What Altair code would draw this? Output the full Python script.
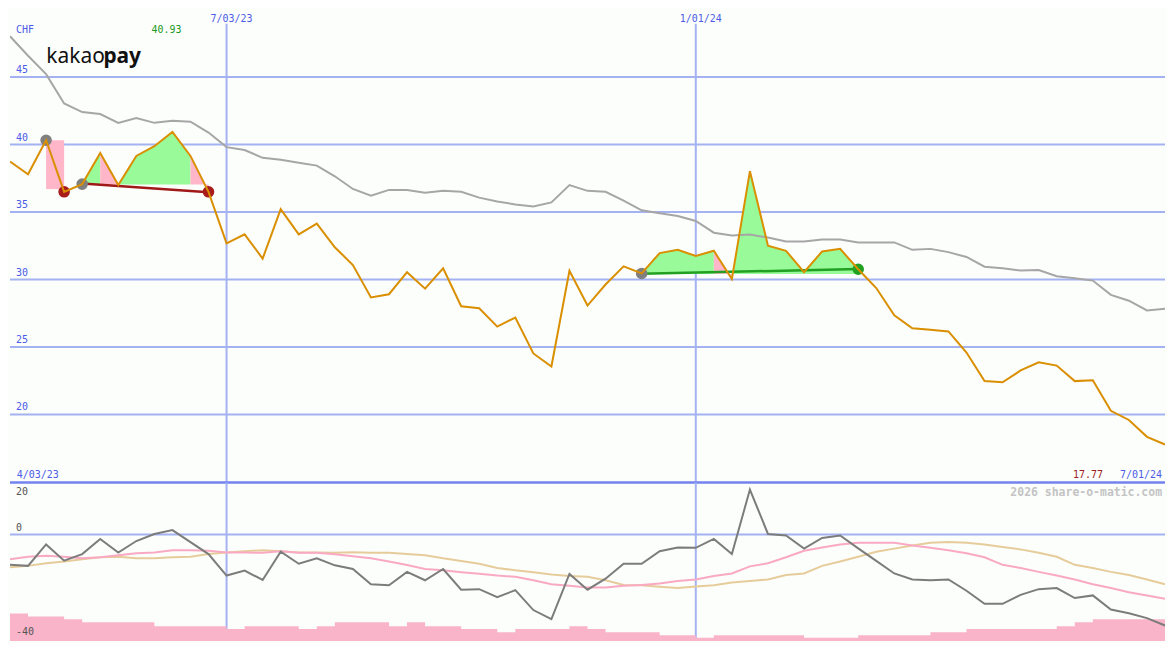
import altair as alt
import pandas as pd

# ---------------- data ----------------
start_date = "2023-04-10"
n_weeks = 65

price = [38.75, 37.80, 40.32, 36.50, 37.07, 39.38, 37.00, 39.16, 39.88, 40.93,
         39.16, 36.50, 32.68, 33.35, 31.55, 35.22, 33.35, 34.14, 32.39, 31.07,
         28.67, 28.91, 30.54, 29.32, 30.83, 28.02, 27.87, 26.51, 27.18, 24.52,
         23.55, 30.64, 28.07, 29.63, 30.97, 30.45, 31.96, 32.20, 31.74, 32.13,
         30.04, 38.03, 32.51, 32.13, 30.54, 32.08, 32.27, 30.76, 29.37, 27.35,
         26.39, 26.27, 26.15, 24.59, 22.47, 22.38, 23.26, 23.87, 23.62, 22.47,
         22.54, 20.27, 19.59, 18.34, 17.77]

moving_avg = [48.03, 46.58, 45.22, 43.05, 42.41, 42.26, 41.61, 41.97, 41.61, 41.76,
              41.69, 40.89, 39.81, 39.60, 39.02, 38.88, 38.66, 38.44, 37.65, 36.71,
              36.21, 36.64, 36.64, 36.43, 36.57, 36.50, 36.07, 35.78, 35.56, 35.41,
              35.71, 37.00, 36.57, 36.50, 35.85, 35.13, 34.91, 34.70, 34.34, 33.47,
              33.26, 33.33, 33.11, 32.82, 32.82, 32.96, 32.96, 32.75, 32.75, 32.75,
              32.20, 32.27, 32.03, 31.67, 30.95, 30.83, 30.66, 30.70, 30.24, 30.09,
              29.92, 28.86, 28.43, 27.71, 27.84]

osc_main = [-11.6, -12.0, -3.8, -10.0, -7.5, -1.7, -6.9, -2.5, 0.2, 1.7,
            -2.9, -7.5, -15.7, -13.8, -17.4, -6.6, -11.2, -9.1, -11.8, -13.2,
            -19.0, -19.4, -14.3, -17.5, -13.2, -21.1, -20.9, -24.0, -21.3, -28.9,
            -32.4, -15.1, -21.1, -16.9, -11.2, -11.2, -6.4, -5.0, -5.1, -1.7,
            -7.5, 17.2, 0.2, -0.4, -5.4, -1.3, -0.4, -5.3, -10.1, -14.9,
            -17.2, -17.5, -17.2, -21.5, -26.5, -26.5, -23.1, -20.9, -20.5, -24.3,
            -23.3, -28.7, -30.1, -32.0, -34.8]

osc_pink = [-9.5, -8.5, -8.1, -8.5, -9.1, -8.7, -7.9, -7.2, -6.9, -6.0,
            -6.0, -6.2, -6.9, -6.9, -7.0, -6.4, -7.0, -7.0, -7.6, -8.3,
            -9.1, -10.3, -11.7, -13.2, -13.7, -14.4, -15.0, -15.7, -16.2, -17.5,
            -19.0, -19.6, -20.3, -20.3, -19.6, -19.3, -18.7, -17.8, -17.2, -15.9,
            -14.9, -12.2, -11.0, -8.7, -6.2, -5.0, -3.8, -3.2, -3.2, -3.2,
            -4.2, -5.1, -6.0, -7.2, -8.7, -11.6, -12.8, -14.3, -15.7, -17.2,
            -19.0, -20.5, -22.1, -23.3, -24.6]

osc_tan = [-12.5, -12.0, -11.0, -10.3, -9.5, -8.7, -8.5, -9.1, -9.1, -8.7,
           -8.5, -7.5, -6.9, -6.4, -6.0, -6.4, -6.9, -6.9, -7.0, -6.8,
           -7.0, -7.0, -7.5, -7.9, -9.1, -10.1, -11.2, -12.8, -13.7, -14.4,
           -15.3, -15.9, -16.2, -17.5, -19.3, -19.4, -20.0, -20.5, -19.9, -19.4,
           -18.4, -17.8, -17.2, -15.5, -14.9, -12.0, -10.3, -8.5, -6.6, -5.4,
           -4.2, -3.2, -2.9, -3.2, -3.8, -4.8, -5.7, -7.0, -8.5, -11.6,
           -12.8, -14.3, -15.5, -17.2, -19.0]

volume_level = ([-30.2, -31.4, -31.4, -32.4] + [-33.6] * 4 + [-35.1] * 4 + [-36.1]
                + [-35.1] * 3 + [-36.1, -35.1] + [-33.6] * 3 + [-35.1, -33.6]
                + [-35.1] * 2 + [-36.1] * 2 + [-37.4] + [-36.1] * 3 + [-35.1, -36.1]
                + [-37.4] * 3 + [-38.5] * 2 + [-39.5] + [-38.5] * 5 + [-39.5] * 3
                + [-38.5] * 4 + [-37.4] * 2 + [-36.1] * 5 + [-35.1, -33.6] + [-32.4] * 4)

top_grid_values = [20, 25, 30, 35, 40, 45]
top_grid_labels = ["20", "25", "30", "35", "40", "45"]
bottom_label_values = [20, 0, -40]
bottom_label_texts = ["20", "0", "-40"]
month_lines = ["2023-07-03", "2024-01-01"]
month_labels = ["7/03/23", "1/01/24"]

# pattern fills: (start week, end week, baseline, direction)
fill_segments = [
    (4, 5, 37.05, "up"), (5, 6, 37.05, "down"), (6, 10, 37.05, "up"),
    (10, 11, 37.05, "down"),
    (35, 39, 30.40, "up"), (39, 40, 30.40, "down"), (40, 47, 30.40, "up"),
]
box_start, box_end, box_top, box_bottom = 2, 3, 40.32, 36.7
# trend lines: (start week, start value, end week, end value, kind)
trendlines = [(4, 37.12, 11, 36.47, "bear"), (35, 30.42, 47, 30.78, "bull")]
# markers: (week, kind)
markers = [(2, "start"), (4, "start"), (3, "bear"), (11, "bear"), (35, "start"), (47, "bull")]

# ---------------- styles ----------------
W = 1159
H1 = 475
H2 = 159
sx = W / 1175
sy = (H1 + H2) / 650
TOP_MIN, TOP_MAX = 14.96, 50.04
BOT_MIN, BOT_MAX = -40.7, 19.9

BG = "#fcfefc"
GRID = "#a4b2f2"
SEP = "#7382ee"
BLUE = "#4c5ce6"
ORANGE = "#d98f00"
MAGRAY = "#a6a6a6"
GREENFILL = "#98fa98"
PINKFILL = "#ffb6c8"
COLORS = {"up": GREENFILL, "down": PINKFILL, "start": "#808080",
          "bear": "#a81c1c", "bull": "#22a022"}
TREND = {"bear": "#a01818", "bull": "#22a022"}
MONO = "DejaVu Sans Mono"

dates = pd.date_range(start_date, periods=n_weeks, freq="7D").strftime("%Y-%m-%d").tolist()

main = pd.DataFrame({"d": dates, "price": price, "ma": moving_avg,
                     "osc": osc_main, "pk": osc_pink, "tan": osc_tan})

fill_rows = []
for i, (a, b, base, kind) in enumerate(fill_segments):
    for k in range(a, b + 1):
        fill_rows.append({"d": dates[k], "top": price[k], "base": base,
                          "seg": i, "col": COLORS[kind]})
fills = pd.DataFrame(fill_rows)

box = pd.DataFrame({"d": [dates[box_start]], "d2": [dates[box_end]],
                    "top": [box_top], "bot": [box_bottom]})

trend_rows = []
for i, (a, va, b, vb, kind) in enumerate(trendlines):
    trend_rows.append({"d": dates[a], "v": va, "seg": i, "col": TREND[kind]})
    trend_rows.append({"d": dates[b], "v": vb, "seg": i, "col": TREND[kind]})
trend = pd.DataFrame(trend_rows)

mk = pd.DataFrame({"d": [dates[k] for k, _ in markers],
                   "v": [price[k] for k, _ in markers],
                   "col": [COLORS[c] for _, c in markers]})

# each weekly bar holds its level until the next week (step-after area)
bars = pd.DataFrame({"d": dates, "v": volume_level + [volume_level[-1]],
                     "base": [BOT_MIN] * n_weeks})

imax = max(range(n_weeks), key=lambda i: price[i])
maxlab = pd.DataFrame({"d": [dates[imax]], "t": [f"{price[imax]:.2f}"]})

x_scale = alt.Scale(type="utc", nice=False,
                    domain=[alt.DateTime(year=2023, month=4, date=10, utc=True),
                            alt.DateTime(year=2024, month=7, date=1, utc=True)])
X = alt.X("d:T", scale=x_scale, axis=None)
X2 = alt.X2("d2:T")
ytop = alt.Scale(domain=[TOP_MIN, TOP_MAX], nice=False, zero=False)
ybot = alt.Scale(domain=[BOT_MIN, BOT_MAX], nice=False, zero=False)


def YT(f):
    return alt.Y(f, scale=ytop, axis=None)


def YB(f):
    return alt.Y(f, scale=ybot, axis=None)


# ---------------- top panel ----------------
t_grid = alt.Chart(pd.DataFrame({"v": top_grid_values})).mark_rule(
    color=GRID, strokeWidth=2).encode(y=YT("v:Q"))
t_vl = alt.Chart(pd.DataFrame({"d": month_lines})).mark_rule(
    color=GRID, strokeWidth=2).encode(x=X, y=alt.value(15 * sy), y2=alt.value(H1))
t_sep = alt.Chart(pd.DataFrame({"v": [TOP_MIN]})).mark_rule(
    color=SEP, strokeWidth=2.5).encode(y=YT("v:Q"))
t_fill = alt.Chart(fills).mark_area(opacity=1, clip=True).encode(
    x=X, y=YT("top:Q"), y2=alt.Y2("base:Q"),
    color=alt.Color("col:N", scale=None), detail="seg:N")
t_box = alt.Chart(box).mark_rect(color=PINKFILL).encode(
    x=X, x2=X2, y=YT("top:Q"), y2=alt.Y2("bot:Q"))
t_ma = alt.Chart(main).mark_line(color=MAGRAY, strokeWidth=2, clip=True).encode(
    x=X, y=YT("ma:Q"))
t_trend = alt.Chart(trend).mark_line(strokeWidth=2.5).encode(
    x=X, y=YT("v:Q"), color=alt.Color("col:N", scale=None), detail="seg:N")
t_mk = alt.Chart(mk).mark_circle(size=135, opacity=1).encode(
    x=X, y=YT("v:Q"), color=alt.Color("col:N", scale=None))
t_price = alt.Chart(main).mark_line(color=ORANGE, strokeWidth=2, clip=True).encode(
    x=X, y=YT("price:Q"))
t_ylab = alt.Chart(pd.DataFrame({"v": top_grid_values, "t": top_grid_labels})).mark_text(
    align="left", baseline="bottom", dy=-2, font=MONO, fontSize=10, color=BLUE).encode(
    x=alt.value(6 * sx), y=YT("v:Q"), text="t:N")
t_dlab = alt.Chart(pd.DataFrame({"d": month_lines, "t": month_labels})).mark_text(
    align="left", baseline="alphabetic", dx=-16, font=MONO, fontSize=10, color=BLUE).encode(
    x=X, y=alt.value(13 * sy), text="t:N")
t_max = alt.Chart(maxlab).mark_text(
    align="center", baseline="alphabetic", dx=-6, font=MONO, fontSize=10, color="#229922").encode(
    x=X, y=alt.value(25 * sy), text="t:N")


def label(txt, x, y, align="left", color=BLUE, size=10, weight="normal", font=MONO):
    return alt.Chart(pd.DataFrame({"t": [txt]})).mark_text(
        align=align, baseline="alphabetic", font=font, fontSize=size,
        fontWeight=weight, color=color).encode(
        x=alt.value(x), y=alt.value(y), text="t:N")


t_chf = label("CHF", 6 * sx, 25 * sy)
t_start = label("4/03/23", 7 * sx, 482 * sy)
t_end = label("7/01/24", 1172 * sx, 482 * sy, align="right")
t_last = label(f"{price[-1]:.2f}", 1112 * sx, 482 * sy, align="right", color="#a01c1c")
t_logo1 = label("kakao", 37 * sx, 55 * sy, color="#111111", size=21, font="Noto Sans")
t_logo2 = label("pay", 95 * sx, 55 * sy, color="#111111", size=21, weight="bold", font="Noto Sans")

top = alt.layer(t_grid, t_vl, t_fill, t_box, t_ma, t_trend, t_mk, t_price, t_sep,
                t_ylab, t_dlab, t_max, t_chf, t_start, t_end, t_last, t_logo1, t_logo2
                ).properties(width=W, height=H1)

# ---------------- bottom panel ----------------
b_grid = alt.Chart(pd.DataFrame({"v": [0]})).mark_rule(
    color=GRID, strokeWidth=2).encode(y=YB("v:Q"))
b_vl = alt.Chart(pd.DataFrame({"d": month_lines})).mark_rule(
    color=GRID, strokeWidth=2).encode(x=X)
b_bars = alt.Chart(bars).mark_area(color="#f9b4c9", opacity=1,
                                   interpolate="step-after").encode(
    x=X, y=YB("v:Q"), y2=alt.Y2("base:Q"))
b_tan = alt.Chart(main).mark_line(color="#e6cc9a", strokeWidth=2, clip=True).encode(
    x=X, y=YB("tan:Q"))
b_pink = alt.Chart(main).mark_line(color="#f9a9c3", strokeWidth=2, clip=True).encode(
    x=X, y=YB("pk:Q"))
b_osc = alt.Chart(main).mark_line(color="#7c7c7c", strokeWidth=2, clip=True).encode(
    x=X, y=YB("osc:Q"))
lab_df = pd.DataFrame({"v": bottom_label_values, "t": bottom_label_texts})
b_lab_top = alt.Chart(lab_df.iloc[:1]).mark_text(
    align="left", baseline="top", dy=5, font=MONO, fontSize=10, color="#555555").encode(
    x=alt.value(6 * sx), y=YB("v:Q"), text="t:N")
b_lab_rest = alt.Chart(lab_df.iloc[1:]).mark_text(
    align="left", baseline="bottom", dy=-2, font=MONO, fontSize=10, color="#555555").encode(
    x=alt.value(6 * sx), y=YB("v:Q"), text="t:N")
b_wm = label("2026 share-o-matic.com", 1172 * sx, 13.5 * sy, align="right",
             color="#c4c4c4", size=11.5, weight="bold")

bottom = alt.layer(b_grid, b_vl, b_bars, b_tan, b_pink, b_osc, b_lab_top, b_lab_rest, b_wm
                   ).properties(width=W, height=H2)

chart = alt.vconcat(top, bottom, spacing=0, bounds="flush").properties(
    padding=0, background=BG
).configure_view(strokeWidth=0)

chart.save("out.html", embed_options={"renderer": "svg", "actions": False})
